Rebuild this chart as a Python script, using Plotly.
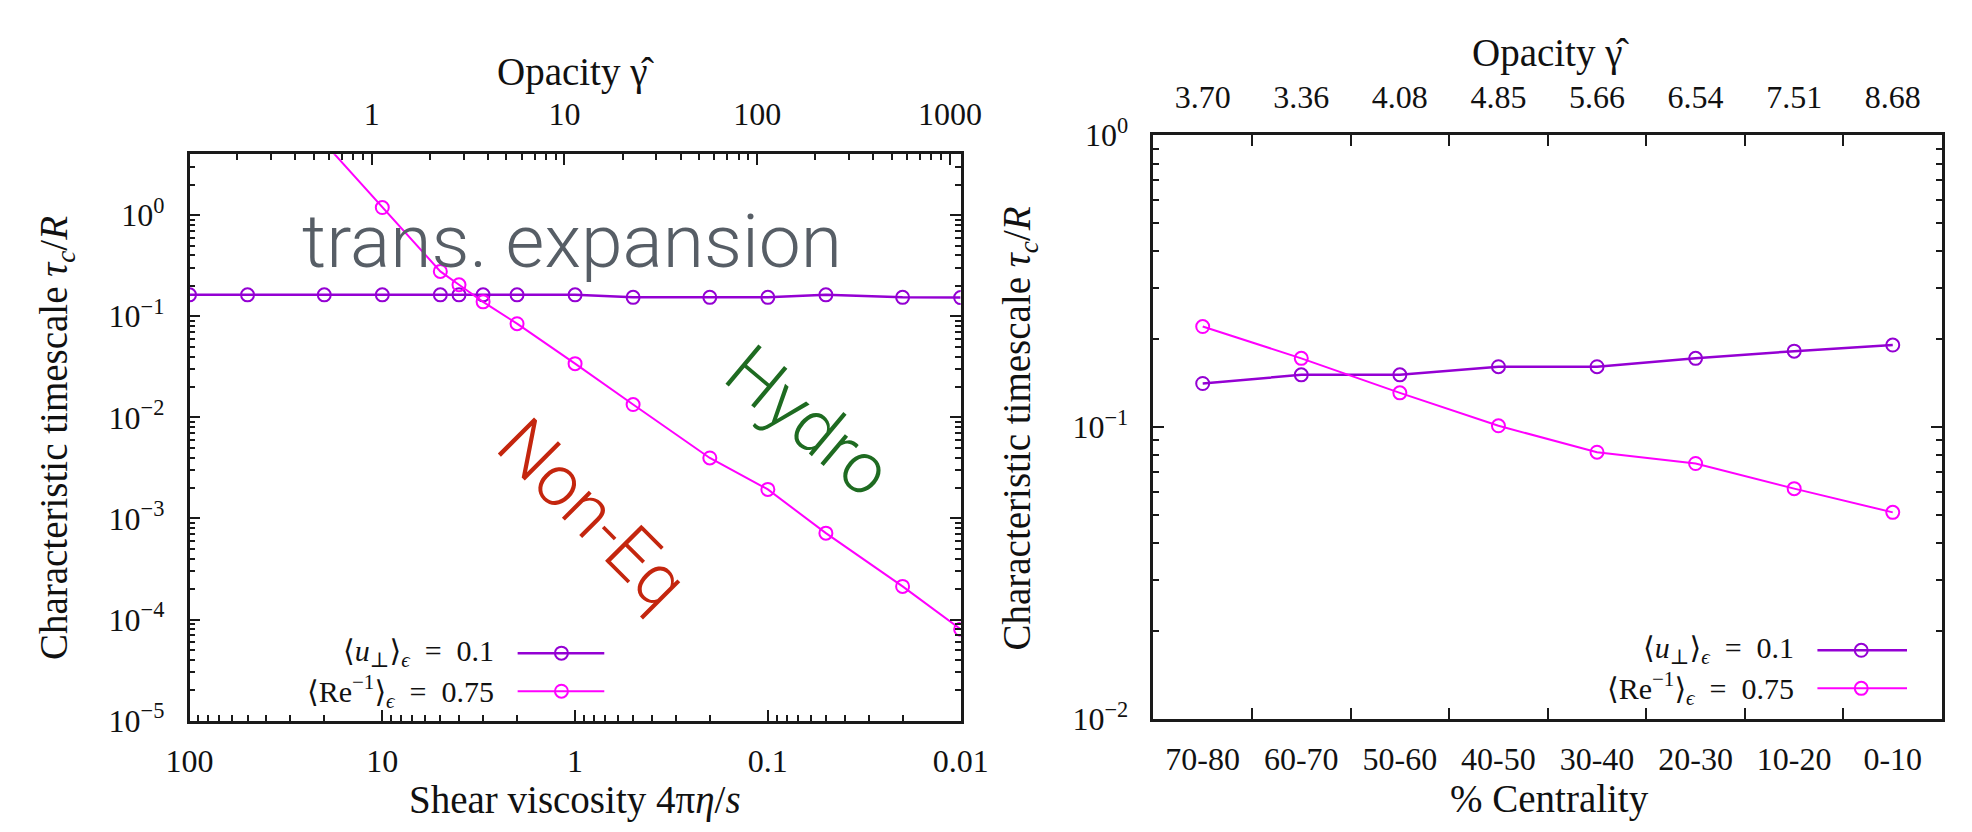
import plotly.graph_objects as go

W, H = 1972, 832

# ---------------- data ----------------
# Left panel: x = shear viscosity 4*pi*eta/s
shear_visc_u = [100, 50, 20, 10, 5, 4, 3, 2, 1, 0.5, 0.2, 0.1, 0.05, 0.02, 0.01]
tau_u_left = [0.163, 0.163, 0.163, 0.163, 0.163, 0.163, 0.163, 0.163, 0.163,
              0.154, 0.154, 0.154, 0.163, 0.154, 0.153]
shear_visc_re = [20, 10, 5, 4, 3, 2, 1, 0.5, 0.2, 0.1, 0.05, 0.02, 0.01]
tau_re_left = [5.2, 1.19, 0.278, 0.205, 0.139, 0.0845, 0.034, 0.0134,
               0.00397, 0.00194, 0.000716, 0.000213, 0.0000802]

visc_ticks = [100, 10, 1, 0.1, 0.01]
visc_ticktext = ["100", "10", "1", "0.1", "0.01"]
opacity_ticks_left = [1, 10, 100, 1000]
opacity_ticktext_left = ["1", "10", "100", "1000"]
opacity_range_left = [-0.945, 3.055]          # log10 of opacity at left / right frame

left_yticks = [1, 0.1, 0.01, 0.001, 0.0001, 0.00001]
left_yticktext = ["10<sup>0</sup>", "10<sup>−1</sup>", "10<sup>−2</sup>",
                  "10<sup>−3</sup>", "10<sup>−4</sup>", "10<sup>−5</sup>"]

# Right panel: centrality classes
centrality = ["70-80", "60-70", "50-60", "40-50", "30-40", "20-30", "10-20", "0-10"]
opacity_right = ["3.70", "3.36", "4.08", "4.85", "5.66", "6.54", "7.51", "8.68"]
tau_u_right = [0.141, 0.151, 0.151, 0.161, 0.161, 0.172, 0.182, 0.191]
tau_re_right = [0.221, 0.172, 0.131, 0.101, 0.082, 0.075, 0.0615, 0.051]

right_yticks = [1, 0.1, 0.01]
right_yticktext = ["10<sup>0</sup>", "10<sup>−1</sup>", "10<sup>−2</sup>"]

label_u = "⟨<i>u</i><sub>⊥</sub>⟩<sub><i>ϵ</i></sub>  =  0.1"
label_re = "⟨Re<sup>−1</sup>⟩<sub><i>ϵ</i></sub>  =  0.75"

# ---------------- styling ----------------
PURPLE = "#9400d3"
MAGENTA = "#ff00ff"
FRAME = "#1a1a1a"
SERIF = "Liberation Serif, 'Times New Roman', Times, 'DejaVu Serif', serif"
TICKFONT = dict(family=SERIF, size=32, color="#111111")


def px(x):
    return x / W


def py(y):
    return 1 - y / H


def minor_vals(lo_exp, hi_exp):
    out = []
    for e in range(lo_exp, hi_exp + 1):
        for m in range(2, 10):
            out.append(m * 10.0 ** e)
    return out


fig = go.Figure()

# Left panel traces
fig.add_trace(go.Scatter(
    x=shear_visc_u, y=tau_u_left, xaxis="x", yaxis="y", mode="lines+markers",
    line=dict(color=PURPLE, width=2.5),
    marker=dict(symbol="circle-open", size=13, color=PURPLE, line=dict(width=2, color=PURPLE)),
    showlegend=False, cliponaxis=True))
fig.add_trace(go.Scatter(
    x=shear_visc_re, y=tau_re_left, xaxis="x", yaxis="y", mode="lines+markers",
    line=dict(color=MAGENTA, width=2),
    marker=dict(symbol="circle-open", size=13, color=MAGENTA, line=dict(width=2, color=MAGENTA)),
    showlegend=False, cliponaxis=True))
# activates the top (opacity) axis of the left panel
fig.add_trace(go.Scatter(x=opacity_ticks_left, y=[None] * len(opacity_ticks_left),
                         xaxis="x2", yaxis="y", mode="markers", showlegend=False,
                         hoverinfo="skip"))

# Right panel traces
fig.add_trace(go.Scatter(
    x=centrality, y=tau_u_right, xaxis="x3", yaxis="y2", mode="lines+markers",
    line=dict(color=PURPLE, width=2.5),
    marker=dict(symbol="circle-open", size=13, color=PURPLE, line=dict(width=2, color=PURPLE)),
    showlegend=False))
fig.add_trace(go.Scatter(
    x=centrality, y=tau_re_right, xaxis="x3", yaxis="y2", mode="lines+markers",
    line=dict(color=MAGENTA, width=2),
    marker=dict(symbol="circle-open", size=13, color=MAGENTA, line=dict(width=2, color=MAGENTA)),
    showlegend=False))
# invisible trace on the top (opacity) axis of the right panel
fig.add_trace(go.Scatter(x=opacity_right, y=tau_u_right, xaxis="x4", yaxis="y2",
                         mode="markers", marker=dict(opacity=0), showlegend=False,
                         hoverinfo="skip"))

common = dict(showgrid=False, zeroline=False, showline=True, linecolor=FRAME, linewidth=2.5,
              ticks="inside", ticklen=11, tickwidth=2, tickcolor=FRAME, tickfont=TICKFONT)

fig.update_layout(
    width=W, height=H,
    margin=dict(l=0, r=0, t=0, b=0, pad=0),
    paper_bgcolor="white", plot_bgcolor="white",
    xaxis=dict(domain=[px(170), px(962)], type="log", range=[2, -2], anchor="y",
               tickvals=visc_ticks, ticktext=visc_ticktext, mirror=False,
               ticklabelstandoff=10,
               minor=dict(ticks="inside", ticklen=6, tickwidth=1.5, tickcolor=FRAME,
                          tickvals=minor_vals(-2, 1)),
               **common),
    xaxis2=dict(overlaying="x", side="top", anchor="y", type="log", range=opacity_range_left,
                tickvals=opacity_ticks_left, ticktext=opacity_ticktext_left,
                ticklabelstandoff=14,
                minor=dict(ticks="inside", ticklen=6, tickwidth=1.5, tickcolor=FRAME,
                           tickvals=minor_vals(-1, 2)),
                **common),
    yaxis=dict(domain=[py(734), py(139)], type="log", range=[-5, 0.602], anchor="x",
               tickvals=left_yticks, ticktext=left_yticktext, mirror="ticks",
               ticklabelstandoff=16,
               minor=dict(ticks="inside", ticklen=6, tickwidth=1.5, tickcolor=FRAME,
                          tickvals=minor_vals(-5, 0)),
               **common),
    xaxis3=dict(domain=[px(1160), px(1970)], type="category", categoryorder="array",
                categoryarray=centrality, range=[-0.5, 7.5], anchor="y2",
                tickson="boundaries", mirror="ticks", ticklabelstandoff=10,
                **common),
    xaxis4=dict(overlaying="x3", side="top", anchor="y2", type="category",
                categoryorder="array", categoryarray=opacity_right, range=[-0.5, 7.5],
                showgrid=False, zeroline=False, showline=False, ticks="",
                tickfont=TICKFONT, ticklabelstandoff=20),
    yaxis2=dict(domain=[py(732), py(119)], type="log", range=[-2, 0], anchor="x3",
                tickvals=right_yticks, ticktext=right_yticktext, mirror="ticks",
                ticklabelstandoff=16,
                minor=dict(ticks="inside", ticklen=6, tickwidth=1.5, tickcolor=FRAME,
                           tickvals=minor_vals(-2, -1)),
                **common),
)

TITLEFONT = dict(family=SERIF, size=39, color="#111111")
ann = []
# axis titles
ann.append(dict(text="Opacity γ̂", x=px(566), y=py(53)))
ann.append(dict(text="Shear viscosity 4π<i>η</i>/<i>s</i>", x=px(566), y=py(817)))
ann.append(dict(text="Opacity γ̂", x=px(1568), y=py(33)))
ann.append(dict(text="% Centrality", x=px(1567), y=py(816)))
ann.append(dict(text="Characteristic timescale <i>τ</i><sub><i>c</i></sub>/<i>R</i>",
                x=px(34), y=py(437), textangle=-90))
ann.append(dict(text="Characteristic timescale <i>τ</i><sub><i>c</i></sub>/<i>R</i>",
                x=px(1022), y=py(427), textangle=-90))
for a in ann:
    a.update(xref="paper", yref="paper", showarrow=False, font=TITLEFONT,
             xanchor="center", yanchor="middle")

# region labels
BIG = "Roboto, 'Helvetica Neue', Lato, sans-serif"
ann.append(dict(text="trans. expansion", x=px(563), y=py(230), xref="paper", yref="paper",
                showarrow=False, xanchor="center", yanchor="middle",
                font=dict(family=BIG, size=75, color="#575e66", weight=300)))
ann.append(dict(text="Hydro", x=px(806), y=py(420), xref="paper", yref="paper",
                showarrow=False, xanchor="center", yanchor="middle", textangle=40,
                font=dict(family=BIG, size=72, color="#1e6b21", weight=300)))
ann.append(dict(text="Non-Eq", x=px(584), y=py(516), xref="paper", yref="paper",
                showarrow=False, xanchor="center", yanchor="middle", textangle=45,
                font=dict(family=BIG, size=72, color="#c4260e", weight=300)))

# hand-drawn legends (text right-aligned, sample to the right as in the original)
LEGFONT = dict(family=SERIF, size=30, color="#111111")
shapes = []
legends = [
    # text right edge, sample x0, sample x1, marker x, row y's
    (485, 507, 596, 552, [663, 703]),
    (1820, 1842, 1934, 1887, [660, 700]),
]
for tx, sx0, sx1, mx, rows in legends:
    for (label, color, lw), ry in zip([(label_u, PURPLE, 2.5), (label_re, MAGENTA, 2)], rows):
        ann.append(dict(text=label, x=px(tx), y=py(ry), xref="paper", yref="paper",
                        showarrow=False, xanchor="right", yanchor="middle", font=LEGFONT))
        shapes.append(dict(type="line", xref="paper", yref="paper", x0=px(sx0), x1=px(sx1),
                           y0=py(ry), y1=py(ry), line=dict(color=color, width=lw)))
        shapes.append(dict(type="circle", xref="paper", yref="paper",
                           xsizemode="pixel", ysizemode="pixel",
                           xanchor=px(mx), yanchor=py(ry), x0=-6.5, x1=6.5, y0=-6.5, y1=6.5,
                           line=dict(color=color, width=2), fillcolor="rgba(0,0,0,0)"))

fig.update_layout(annotations=ann, shapes=shapes)

fig.write_html("out.html")
